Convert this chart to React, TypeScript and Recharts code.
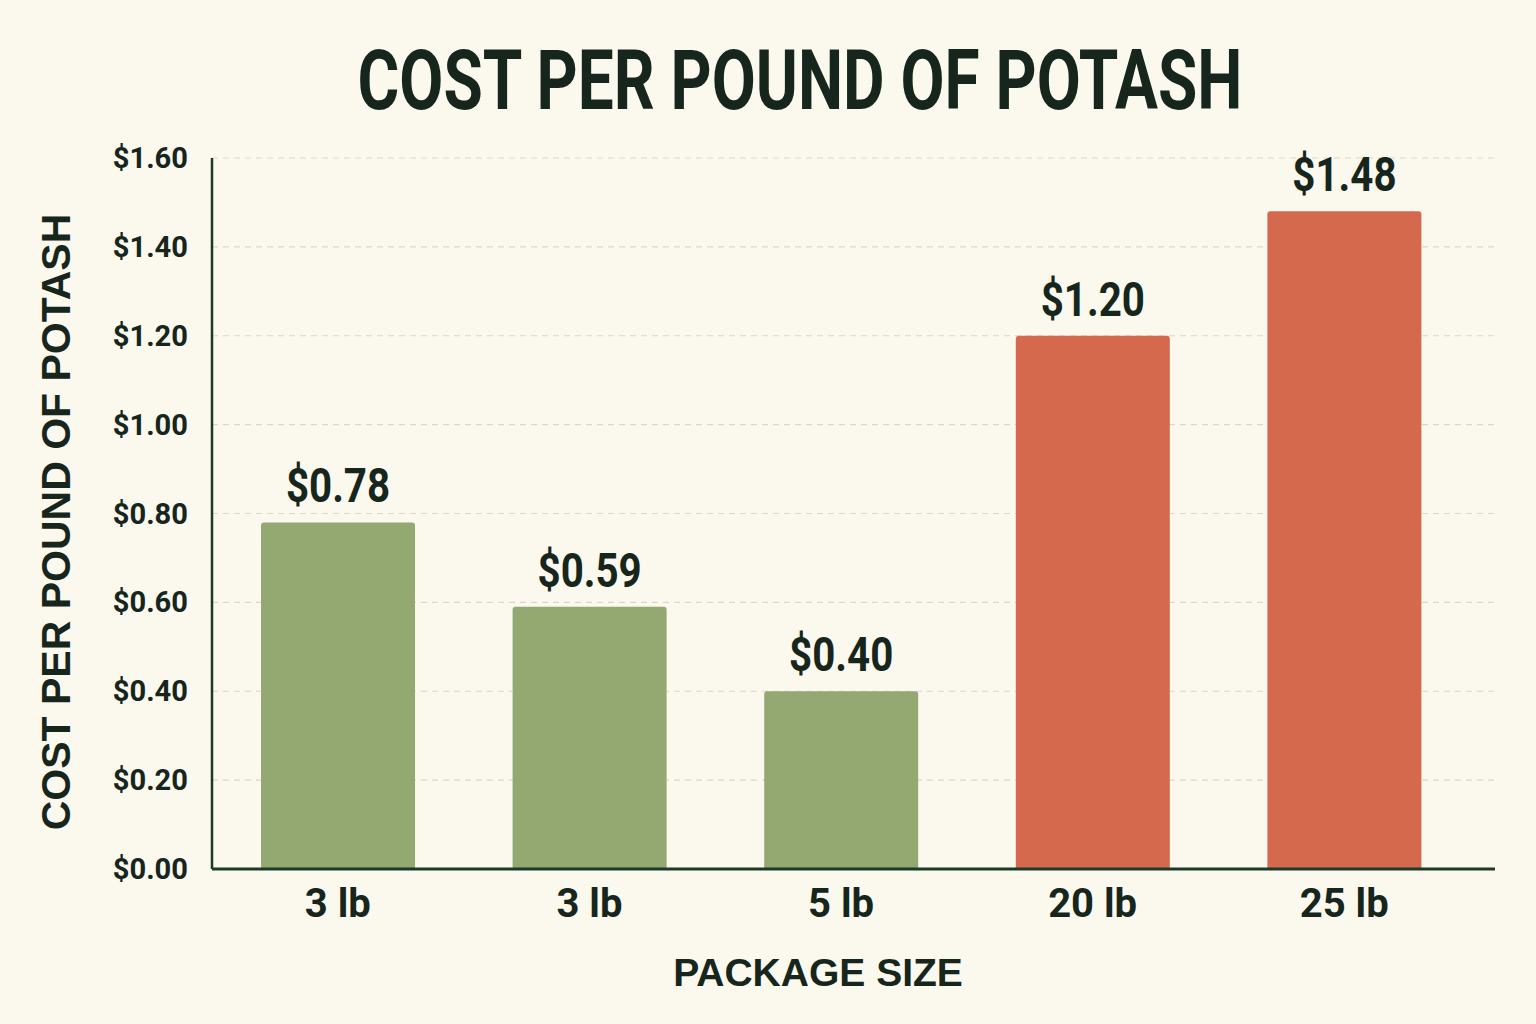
import React from "react";
import { BarChart, Bar, XAxis, YAxis, CartesianGrid, Cell, LabelList, Label } from "recharts";

const categories = ["3 lb", "3 lb", "5 lb", "20 lb", "25 lb"];
const costPerPound = [0.78, 0.59, 0.40, 1.20, 1.48];
const barColors = ["#94a872", "#94a872", "#94a872", "#d4694e", "#d4694e"];
const yTicks = [0, 0.2, 0.4, 0.6, 0.8, 1.0, 1.2, 1.4, 1.6];

const data = categories.map((c, i) => ({ idx: i, label: c, value: costPerPound[i] }));

const BG = "#fbf8ee";
const INK = "#17261c";
const AXIS = "#1d3a29";
const COND = "Roboto, 'DejaVu Sans', sans-serif";
const WIDE = "'Liberation Sans', Arial, sans-serif";

const fmt = (v: number) => `$${v.toFixed(2)}`;

const ValueLabel = (props: any) => {
  const { x, y, width, value } = props;
  return (
    <g transform={`translate(${x + width / 2}, ${y - 20}) scale(0.84, 1)`}>
      <text x={0} y={0} textAnchor="middle" fill={INK}
        style={{ fontFamily: COND, fontWeight: 700, fontSize: 48 }}>
        {fmt(value)}
      </text>
    </g>
  );
};

const XTick = (props: any) => {
  const { x, y, payload } = props;
  return (
    <g transform={`translate(${x}, ${y + 40}) scale(1, 1)`}>
      <text x={0} y={0} textAnchor="middle" fill={INK}
        style={{ fontFamily: COND, fontWeight: 700, fontSize: 40 }}>
        {categories[payload.value]}
      </text>
    </g>
  );
};

const YTick = (props: any) => {
  const { x, y, payload } = props;
  return (
    <g transform={`translate(${x - 16}, ${y + 10}) scale(0.97, 1)`}>
      <text x={0} y={0} textAnchor="end" fill={INK}
        style={{ fontFamily: COND, fontWeight: 700, fontSize: 30 }}>
        {fmt(payload.value)}
      </text>
    </g>
  );
};

export default function App() {
  return (
    <div style={{ position: "absolute", left: 0, top: 0, width: 1536, height: 1024, background: BG, overflow: "hidden" }}>
      <svg style={{ position: "absolute", left: 0, top: 0 }} width={1536} height={130}>
        <text x={800} y={109} textAnchor="middle" textLength={885} lengthAdjust="spacingAndGlyphs" fill={INK}
          style={{ fontFamily: COND, fontWeight: 700, fontSize: 84 }}>
          COST PER POUND OF POTASH
        </text>
      </svg>
      <div style={{ position: "absolute", left: 0, top: 0 }}>
        <BarChart width={1536} height={1024} data={data}
          margin={{ top: 158, right: 41, bottom: 125, left: 0 }}>
          <CartesianGrid vertical={false} stroke="#dcd7ca" strokeDasharray="6 5" strokeWidth={1.2} />
          <XAxis dataKey="idx" type="category" height={30} tick={<XTick />} tickLine={false}
            axisLine={{ stroke: AXIS, strokeWidth: 3 }} padding={{ left: 0, right: 25 }} interval={0}>
            <Label content={() => (
              <text x={818} y={986} textAnchor="middle" fill={INK}
                style={{ fontFamily: WIDE, fontWeight: 700, fontSize: 39 }}>PACKAGE SIZE</text>
            )} />
          </XAxis>
          <YAxis width={212} domain={[0, 1.6]} ticks={yTicks} tick={<YTick />} tickLine={false}
            axisLine={{ stroke: AXIS, strokeWidth: 2.5 }} interval={0}>
            <Label content={() => (
              <text x={70} y={522} transform="rotate(-90, 70, 522)" textAnchor="middle" fill={INK}
                style={{ fontFamily: WIDE, fontWeight: 700, fontSize: 41 }}>COST PER POUND OF POTASH</text>
            )} />
          </YAxis>
          <Bar dataKey="value" barSize={154} radius={[3, 3, 0, 0]} isAnimationActive={false}>
            {data.map((d, i) => (
              <Cell key={i} fill={barColors[i]} />
            ))}
            <LabelList dataKey="value" content={<ValueLabel />} />
          </Bar>
        </BarChart>
      </div>
    </div>
  );
}
